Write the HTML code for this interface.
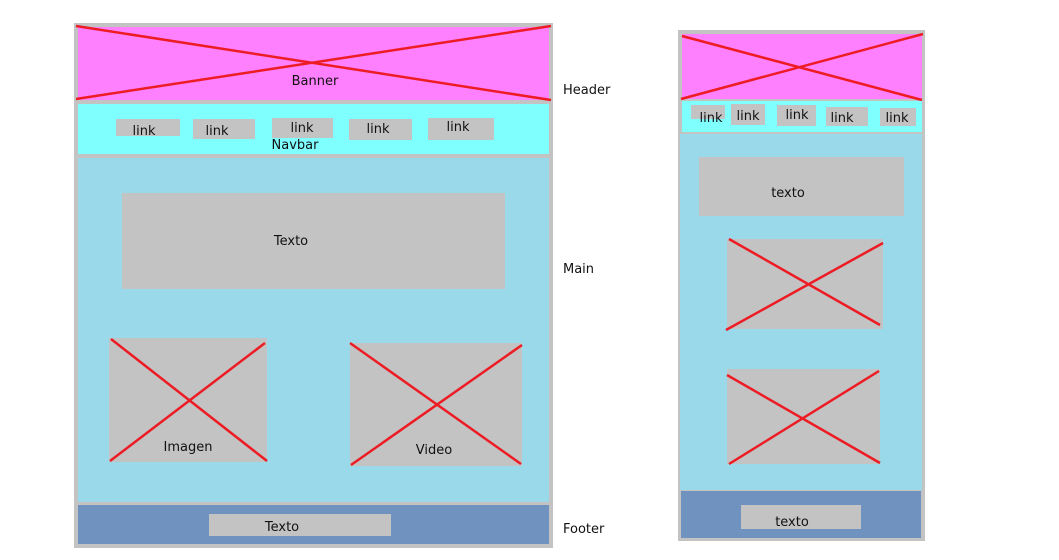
<!DOCTYPE html>
<html><head><meta charset="utf-8"><style>
html,body{margin:0;padding:0;background:#fff;width:1059px;height:560px;overflow:hidden}
text{font-family:"DejaVu Sans","Liberation Sans",sans-serif;font-size:13px;fill:#111}
</style></head><body>
<svg width="1059" height="560" viewBox="0 0 1059 560">
<g>
<rect x="74" y="23" width="479" height="525" fill="#c3c3c3"/>
<rect x="78" y="27" width="471" height="73" fill="#ff80ff"/>
<line x1="76" y1="26" x2="551" y2="100" stroke="#ed1c24" stroke-width="2.5"/>
<line x1="76" y1="99" x2="551" y2="26" stroke="#ed1c24" stroke-width="2.5"/>
<text x="315" y="85" text-anchor="middle">Banner</text>
<rect x="78" y="104" width="471" height="50" fill="#80ffff"/>
<rect x="116" y="119" width="64" height="17" fill="#c3c3c3"/>
<text x="144" y="135" text-anchor="middle">link</text>
<rect x="193" y="119" width="62" height="20" fill="#c3c3c3"/>
<text x="217" y="135" text-anchor="middle">link</text>
<rect x="272" y="118" width="61" height="20" fill="#c3c3c3"/>
<text x="302" y="132" text-anchor="middle">link</text>
<rect x="349" y="119" width="63" height="21" fill="#c3c3c3"/>
<text x="378" y="133" text-anchor="middle">link</text>
<rect x="428" y="118" width="66" height="22" fill="#c3c3c3"/>
<text x="458" y="131" text-anchor="middle">link</text>
<text x="295" y="149" text-anchor="middle">Navbar</text>
<rect x="78" y="158" width="471" height="344" fill="#99d9ea"/>
<rect x="122" y="193" width="383" height="96" fill="#c3c3c3"/>
<text x="291" y="245" text-anchor="middle">Texto</text>
<rect x="109" y="338" width="158" height="124" fill="#c3c3c3"/>
<line x1="111" y1="339" x2="267" y2="461" stroke="#ed1c24" stroke-width="2.5"/>
<line x1="110" y1="461" x2="265" y2="343" stroke="#ed1c24" stroke-width="2.5"/>
<text x="188" y="451" text-anchor="middle">Imagen</text>
<rect x="350" y="343" width="172" height="123" fill="#c3c3c3"/>
<line x1="350" y1="343" x2="521" y2="464" stroke="#ed1c24" stroke-width="2.5"/>
<line x1="351" y1="465" x2="522" y2="345" stroke="#ed1c24" stroke-width="2.5"/>
<text x="434" y="454" text-anchor="middle">Video</text>
<rect x="78" y="505" width="471" height="39" fill="#7092be"/>
<rect x="209" y="514" width="182" height="22" fill="#c3c3c3"/>
<text x="282" y="531" text-anchor="middle">Texto</text>
</g>
<text x="563" y="94">Header</text>
<text x="563" y="273">Main</text>
<text x="563" y="533">Footer</text>
<g>
<rect x="678" y="30" width="247" height="511" fill="#c3c3c3"/>
<rect x="682" y="34" width="240" height="65" fill="#ff80ff"/>
<line x1="682" y1="36" x2="922" y2="100" stroke="#ed1c24" stroke-width="2.5"/>
<line x1="681" y1="99" x2="923" y2="34" stroke="#ed1c24" stroke-width="2.5"/>
<rect x="682" y="101" width="240" height="31" fill="#80ffff"/>
<rect x="691" y="105" width="34" height="14" fill="#c3c3c3"/>
<text x="711" y="122" text-anchor="middle">link</text>
<rect x="731" y="104" width="34" height="21" fill="#c3c3c3"/>
<text x="748" y="120" text-anchor="middle">link</text>
<rect x="777" y="105" width="39" height="21" fill="#c3c3c3"/>
<text x="797" y="119" text-anchor="middle">link</text>
<rect x="826" y="107" width="42" height="19" fill="#c3c3c3"/>
<text x="842" y="122" text-anchor="middle">link</text>
<rect x="880" y="108" width="36" height="18" fill="#c3c3c3"/>
<text x="897" y="122" text-anchor="middle">link</text>
<rect x="680" y="134" width="242" height="356" fill="#99d9ea"/>
<rect x="699" y="157" width="205" height="59" fill="#c3c3c3"/>
<text x="788" y="197" text-anchor="middle">texto</text>
<rect x="727" y="239" width="156" height="90" fill="#c3c3c3"/>
<line x1="729" y1="239" x2="880" y2="325" stroke="#ed1c24" stroke-width="2.5"/>
<line x1="726" y1="330" x2="883" y2="243" stroke="#ed1c24" stroke-width="2.5"/>
<rect x="727" y="369" width="153" height="95" fill="#c3c3c3"/>
<line x1="727" y1="375" x2="880" y2="463" stroke="#ed1c24" stroke-width="2.5"/>
<line x1="729" y1="464" x2="879" y2="371" stroke="#ed1c24" stroke-width="2.5"/>
<rect x="681" y="491" width="240" height="47" fill="#7092be"/>
<rect x="741" y="505" width="120" height="24" fill="#c3c3c3"/>
<text x="792" y="526" text-anchor="middle">texto</text>
</g>
</svg>
</body></html>
